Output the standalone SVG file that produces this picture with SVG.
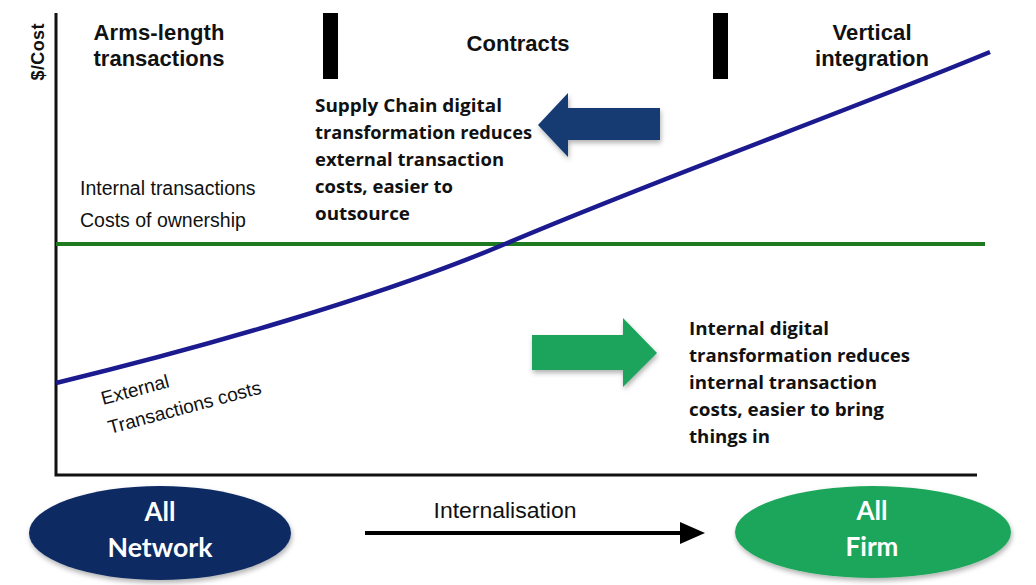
<svg xmlns="http://www.w3.org/2000/svg" width="1036" height="585" viewBox="0 0 1036 585">
<style>
.hdr{font-family:"Liberation Sans",Arial,sans-serif;font-weight:bold;font-size:22px;fill:#111;text-anchor:middle}
.lbl{font-family:"Liberation Sans",Arial,sans-serif;font-size:19.5px;fill:#111}
.note{font-family:"Open Sans",Lato,sans-serif;font-weight:bold;font-size:17.5px;fill:#111}
.oval{font-family:Lato,"Open Sans",sans-serif;font-weight:bold;font-size:26px;fill:#fff;text-anchor:middle}
.bar{fill:#000}
</style>
<defs>
<filter id="sh" x="-20%" y="-20%" width="140%" height="150%">
<feDropShadow dx="1" dy="3" stdDeviation="2.5" flood-color="#000" flood-opacity="0.3"/>
</filter>
</defs>
<rect width="1036" height="585" fill="#fff"/>

<g id="axes">
<path d="M56,13 L56,475 L977,475" fill="none" stroke="#111" stroke-width="3"/>
<text class="hdr" transform="translate(44,52) rotate(-90)" style="font-size:18px" textLength="57">$/Cost</text>
</g>

<g id="headers">
<text class="hdr" x="159" y="40" textLength="131">Arms-length</text>
<text class="hdr" x="159" y="66" textLength="131">transactions</text>
<text class="hdr" x="518" y="51" textLength="103">Contracts</text>
<text class="hdr" x="872" y="40" textLength="79">Vertical</text>
<text class="hdr" x="872" y="66" textLength="114">integration</text>
<rect class="bar" x="323" y="13" width="15" height="66"/>
<rect class="bar" x="713" y="13" width="15" height="66"/>
</g>

<g id="connectors">
<line x1="56" y1="244" x2="985" y2="244" stroke="#1e7a1e" stroke-width="4"/>
<path d="M56,383 C200,348 380,297 505,244 C660,178 850,110 990,52" fill="none" stroke="#1b1b8f" stroke-width="4.5"/>
<line x1="365" y1="533" x2="682" y2="533" stroke="#000" stroke-width="4"/>
<path d="M680,522 L705,533 L680,544 Z" fill="#000"/>
</g>

<g id="internal-label">
<text class="lbl" x="80" y="195">Internal transactions</text>
<text class="lbl" x="80" y="227">Costs of ownership</text>
</g>

<g id="external-label">
<text class="lbl" style="font-size:19px" transform="translate(103,405) rotate(-15)">External</text>
<text class="lbl" style="font-size:19px" transform="translate(110,434) rotate(-15)">Transactions costs</text>
</g>

<g id="supply-chain">
<path d="M660,108 L568,108 L568,93 L538,125 L568,157 L568,140 L660,140 Z" fill="#163a72" filter="url(#sh)"/>
<text class="note" x="315" y="112" textLength="187" lengthAdjust="spacingAndGlyphs">Supply Chain digital</text>
<text class="note" x="315" y="139" textLength="217" lengthAdjust="spacingAndGlyphs">transformation reduces</text>
<text class="note" x="315" y="166" textLength="189" lengthAdjust="spacingAndGlyphs">external transaction</text>
<text class="note" x="315" y="193" textLength="138" lengthAdjust="spacingAndGlyphs">costs, easier to</text>
<text class="note" x="315" y="220" textLength="95" lengthAdjust="spacingAndGlyphs">outsource</text>
</g>

<g id="internal-digital">
<path d="M532,335 L623,335 L623,318 L657,353 L623,387 L623,370 L532,370 Z" fill="#1aa35c" filter="url(#sh)"/>
<text class="note" x="689" y="335" textLength="140" lengthAdjust="spacingAndGlyphs">Internal digital</text>
<text class="note" x="689" y="362" textLength="221" lengthAdjust="spacingAndGlyphs">transformation reduces</text>
<text class="note" x="689" y="389" textLength="188" lengthAdjust="spacingAndGlyphs">internal transaction</text>
<text class="note" x="689" y="416" textLength="195" lengthAdjust="spacingAndGlyphs">costs, easier to bring</text>
<text class="note" x="689" y="443" textLength="81" lengthAdjust="spacingAndGlyphs">things in</text>
</g>

<g id="all-network">
<ellipse cx="160" cy="533" rx="131" ry="47" fill="#0f2b63" filter="url(#sh)"/>
<text class="oval" x="160" y="521">All</text>
<text class="oval" x="160" y="557" textLength="105" lengthAdjust="spacingAndGlyphs">Network</text>
</g>

<g id="internalisation">
<text class="lbl" x="505" y="518" style="font-size:22px;text-anchor:middle" textLength="143" lengthAdjust="spacingAndGlyphs">Internalisation</text>
</g>

<g id="all-firm">
<ellipse cx="873" cy="532" rx="138" ry="46" fill="#1ea65b" filter="url(#sh)"/>
<text class="oval" x="872" y="520">All</text>
<text class="oval" x="872" y="556">Firm</text>
</g>
</svg>
